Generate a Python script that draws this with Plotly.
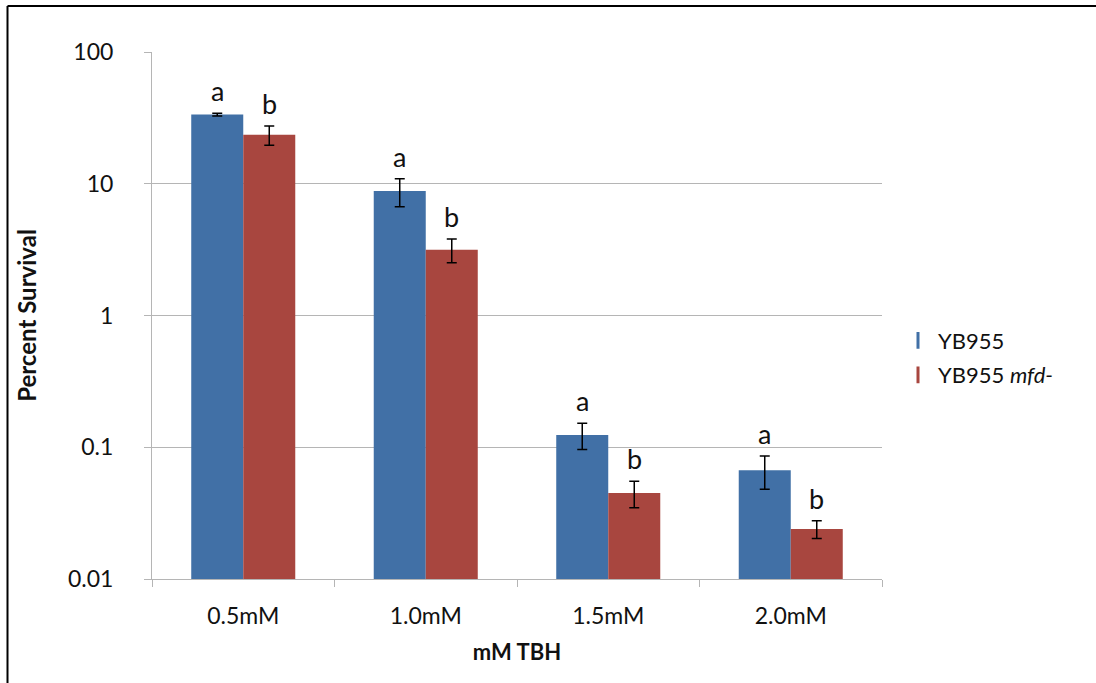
import math
import plotly.graph_objects as go

categories = ["0.5mM", "1.0mM", "1.5mM", "2.0mM"]
yb955 = [33.5, 8.8, 0.124, 0.067]
yb955_err = [0.8, 2.1, 0.028, 0.019]
mfd = [23.5, 3.16, 0.045, 0.024]
mfd_err = [3.9, 0.65, 0.0103, 0.0037]
letters_yb955 = ["a", "a", "a", "a"]
letters_mfd = ["b", "b", "b", "b"]
ytick_vals = [0.01, 0.1, 1, 10, 100]
ytick_text = ["0.01", "0.1", "1", "10", "100"]

BLUE = "#4170A6"
RED = "#A8463F"
GRID = "#b5b5b5"
FONT = "Lato, 'Open Sans', sans-serif"

W, H = 1096, 683
L, R, T, B = 152, 214, 52, 104
pw, ph = W - L - R, H - T - B

def px_to_paper(x, y):
    return (x - L) / pw, (H - B - y) / ph

fig = go.Figure()
fig.add_trace(go.Bar(
    x=categories, y=yb955, name="YB955", marker_color=BLUE,
    marker_line=dict(width=0), showlegend=False,
    error_y=dict(type="data", array=yb955_err, color="black", thickness=1.5, width=5),
))
fig.add_trace(go.Bar(
    x=categories, y=mfd, name="YB955 <i>mfd-</i>", marker_color=RED,
    marker_line=dict(width=0), showlegend=False,
    error_y=dict(type="data", array=mfd_err, color="black", thickness=1.5, width=5),
))
# legend entries (thin vertical markers like the reference)
fig.add_trace(go.Scatter(
    x=[None], y=[None], mode="markers", name="YB955", legendgroup="g1",
    marker=dict(symbol="line-ns", size=12, color=BLUE, line=dict(width=3, color=BLUE)),
))
fig.add_trace(go.Scatter(
    x=[None], y=[None], mode="markers", name="YB955 <i>mfd-</i>", legendgroup="g2",
    marker=dict(symbol="line-ns", size=12, color=RED, line=dict(width=3, color=RED)),
))

annotations = []
for cat, v, e, t in zip(categories, yb955, yb955_err, letters_yb955):
    annotations.append(dict(x=cat, y=math.log10(v + e), text=t, showarrow=False,
                            xshift=-26, yshift=4, yanchor="bottom",
                            font=dict(family=FONT, size=27, color="#111")))
for cat, v, e, t in zip(categories, mfd, mfd_err, letters_mfd):
    annotations.append(dict(x=cat, y=math.log10(v + e), text=t, showarrow=False,
                            xshift=26, yshift=4, yanchor="bottom",
                            font=dict(family=FONT, size=27, color="#111")))

# frame lines (top and left of the image)
x0, y0 = px_to_paper(7.5, 6)
x1, y1 = px_to_paper(W + 5, H + 5)
shapes = [
    dict(type="line", xref="paper", yref="paper", x0=x0, y0=y0, x1=x1, y1=y0,
         line=dict(color="black", width=2)),
    dict(type="line", xref="paper", yref="paper", x0=x0, y0=y0, x1=x0, y1=y1,
         line=dict(color="black", width=2)),
]

lx, ly = px_to_paper(898, 358)

fig.update_layout(
    width=W, height=H,
    margin=dict(l=L, r=R, t=T, b=B, pad=0),
    paper_bgcolor="white", plot_bgcolor="white",
    font=dict(family=FONT, color="#111"),
    barmode="group", bargap=0.43, bargroupgap=0,
    annotations=annotations, shapes=shapes,
    legend=dict(x=lx, y=ly, xanchor="left", yanchor="middle",
                font=dict(family=FONT, size=22, color="#111"),
                traceorder="grouped", tracegroupgap=3,
                bgcolor="rgba(0,0,0,0)", itemwidth=30),
    xaxis=dict(
        title=dict(text="<b>mM TBH</b>", font=dict(family=FONT, size=22, color="#111"), standoff=17),
        showline=True, linecolor=GRID, linewidth=1,
        ticks="outside", tickson="boundaries", ticklen=7, tickcolor=GRID,
        tickfont=dict(family=FONT, size=23, color="#111"),
        ticklabelstandoff=16,
        showgrid=False,
    ),
    yaxis=dict(
        type="log", range=[-2, 2],
        tickvals=ytick_vals, ticktext=ytick_text,
        title=dict(text="<b>Percent Survival</b>", font=dict(family=FONT, size=24, color="#111"), standoff=24),
        showline=True, linecolor=GRID, linewidth=1,
        ticks="outside", ticklen=7, tickcolor=GRID,
        tickfont=dict(family=FONT, size=23, color="#111"),
        ticklabelstandoff=26,
        showgrid=True, gridcolor=GRID, gridwidth=1,
        zeroline=False,
    ),
)

fig.write_html("out.html")
